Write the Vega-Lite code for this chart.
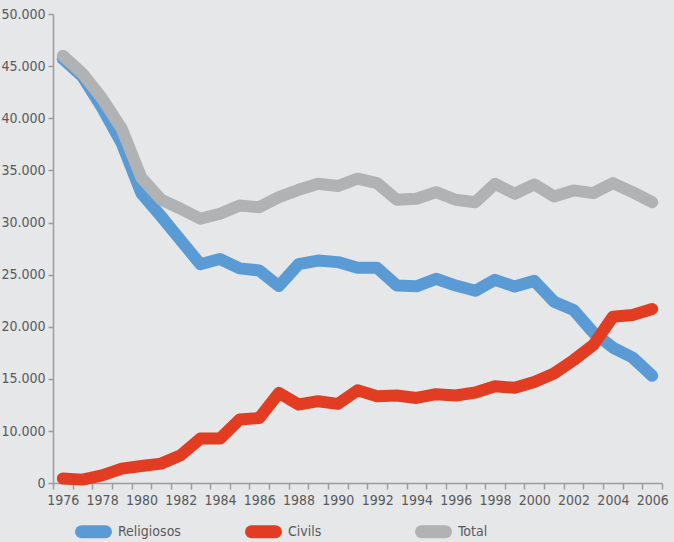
{
  "$schema": "https://vega.github.io/schema/vega-lite/v6.json",
  "width": 609,
  "height": 469,
  "autosize": {"type": "none"},
  "padding": {"left": 53, "top": 14, "right": 12, "bottom": 59},
  "background": "#E6E7E9",
  "config": {
    "view": {"stroke": null},
    "font": "DejaVu Sans Condensed, sans-serif",
    "axis": {
      "domainColor": "#9B9C9E",
      "tickColor": "#9B9C9E",
      "labelColor": "#58595B",
      "labelFontSize": 14,
      "labelFont": "DejaVu Sans Condensed, sans-serif",
      "grid": false,
      "title": null,
      "domainWidth": 1.5,
      "tickWidth": 1.5
    }
  },
  "data": {
    "values": [
      {"Any": 1976, "Tipus": "Religiosos", "Matrimonis": 45700},
      {"Any": 1977, "Tipus": "Religiosos", "Matrimonis": 44000},
      {"Any": 1978, "Tipus": "Religiosos", "Matrimonis": 41000},
      {"Any": 1979, "Tipus": "Religiosos", "Matrimonis": 37600},
      {"Any": 1980, "Tipus": "Religiosos", "Matrimonis": 32800},
      {"Any": 1981, "Tipus": "Religiosos", "Matrimonis": 30600},
      {"Any": 1982, "Tipus": "Religiosos", "Matrimonis": 28300},
      {"Any": 1983, "Tipus": "Religiosos", "Matrimonis": 26000},
      {"Any": 1984, "Tipus": "Religiosos", "Matrimonis": 26500},
      {"Any": 1985, "Tipus": "Religiosos", "Matrimonis": 25600},
      {"Any": 1986, "Tipus": "Religiosos", "Matrimonis": 25400},
      {"Any": 1987, "Tipus": "Religiosos", "Matrimonis": 23900},
      {"Any": 1988, "Tipus": "Religiosos", "Matrimonis": 26000},
      {"Any": 1989, "Tipus": "Religiosos", "Matrimonis": 26350},
      {"Any": 1990, "Tipus": "Religiosos", "Matrimonis": 26200},
      {"Any": 1991, "Tipus": "Religiosos", "Matrimonis": 25650},
      {"Any": 1992, "Tipus": "Religiosos", "Matrimonis": 25650},
      {"Any": 1993, "Tipus": "Religiosos", "Matrimonis": 23950},
      {"Any": 1994, "Tipus": "Religiosos", "Matrimonis": 23880},
      {"Any": 1995, "Tipus": "Religiosos", "Matrimonis": 24600},
      {"Any": 1996, "Tipus": "Religiosos", "Matrimonis": 23950},
      {"Any": 1997, "Tipus": "Religiosos", "Matrimonis": 23450},
      {"Any": 1998, "Tipus": "Religiosos", "Matrimonis": 24500},
      {"Any": 1999, "Tipus": "Religiosos", "Matrimonis": 23850},
      {"Any": 2000, "Tipus": "Religiosos", "Matrimonis": 24400},
      {"Any": 2001, "Tipus": "Religiosos", "Matrimonis": 22400},
      {"Any": 2002, "Tipus": "Religiosos", "Matrimonis": 21600},
      {"Any": 2003, "Tipus": "Religiosos", "Matrimonis": 19450},
      {"Any": 2004, "Tipus": "Religiosos", "Matrimonis": 18000},
      {"Any": 2005, "Tipus": "Religiosos", "Matrimonis": 17050},
      {"Any": 2006, "Tipus": "Religiosos", "Matrimonis": 15300},
      {"Any": 1976, "Tipus": "Civils", "Matrimonis": 850},
      {"Any": 1977, "Tipus": "Civils", "Matrimonis": 650},
      {"Any": 1978, "Tipus": "Civils", "Matrimonis": 1480},
      {"Any": 1979, "Tipus": "Civils", "Matrimonis": 2770},
      {"Any": 1980, "Tipus": "Civils", "Matrimonis": 3270},
      {"Any": 1981, "Tipus": "Civils", "Matrimonis": 3730},
      {"Any": 1982, "Tipus": "Civils", "Matrimonis": 5330},
      {"Any": 1983, "Tipus": "Civils", "Matrimonis": 8540},
      {"Any": 1984, "Tipus": "Civils", "Matrimonis": 8540},
      {"Any": 1985, "Tipus": "Civils", "Matrimonis": 11100},
      {"Any": 1986, "Tipus": "Civils", "Matrimonis": 11250},
      {"Any": 1987, "Tipus": "Civils", "Matrimonis": 13650},
      {"Any": 1988, "Tipus": "Civils", "Matrimonis": 12540},
      {"Any": 1989, "Tipus": "Civils", "Matrimonis": 12860},
      {"Any": 1990, "Tipus": "Civils", "Matrimonis": 12600},
      {"Any": 1991, "Tipus": "Civils", "Matrimonis": 13900},
      {"Any": 1992, "Tipus": "Civils", "Matrimonis": 13340},
      {"Any": 1993, "Tipus": "Civils", "Matrimonis": 13400},
      {"Any": 1994, "Tipus": "Civils", "Matrimonis": 13170},
      {"Any": 1995, "Tipus": "Civils", "Matrimonis": 13530},
      {"Any": 1996, "Tipus": "Civils", "Matrimonis": 13400},
      {"Any": 1997, "Tipus": "Civils", "Matrimonis": 13690},
      {"Any": 1998, "Tipus": "Civils", "Matrimonis": 14300},
      {"Any": 1999, "Tipus": "Civils", "Matrimonis": 14140},
      {"Any": 2000, "Tipus": "Civils", "Matrimonis": 14710},
      {"Any": 2001, "Tipus": "Civils", "Matrimonis": 15520},
      {"Any": 2002, "Tipus": "Civils", "Matrimonis": 16800},
      {"Any": 2003, "Tipus": "Civils", "Matrimonis": 18240},
      {"Any": 2004, "Tipus": "Civils", "Matrimonis": 20960},
      {"Any": 2005, "Tipus": "Civils", "Matrimonis": 21130},
      {"Any": 2006, "Tipus": "Civils", "Matrimonis": 21700},
      {"Any": 1976, "Tipus": "Total", "Matrimonis": 46000},
      {"Any": 1977, "Tipus": "Total", "Matrimonis": 44300},
      {"Any": 1978, "Tipus": "Total", "Matrimonis": 41900},
      {"Any": 1979, "Tipus": "Total", "Matrimonis": 39000},
      {"Any": 1980, "Tipus": "Total", "Matrimonis": 34300},
      {"Any": 1981, "Tipus": "Total", "Matrimonis": 32200},
      {"Any": 1982, "Tipus": "Total", "Matrimonis": 31320},
      {"Any": 1983, "Tipus": "Total", "Matrimonis": 30360},
      {"Any": 1984, "Tipus": "Total", "Matrimonis": 30840},
      {"Any": 1985, "Tipus": "Total", "Matrimonis": 31630},
      {"Any": 1986, "Tipus": "Total", "Matrimonis": 31470},
      {"Any": 1987, "Tipus": "Total", "Matrimonis": 32440},
      {"Any": 1988, "Tipus": "Total", "Matrimonis": 33140},
      {"Any": 1989, "Tipus": "Total", "Matrimonis": 33720},
      {"Any": 1990, "Tipus": "Total", "Matrimonis": 33500},
      {"Any": 1991, "Tipus": "Total", "Matrimonis": 34200},
      {"Any": 1992, "Tipus": "Total", "Matrimonis": 33780},
      {"Any": 1993, "Tipus": "Total", "Matrimonis": 32180},
      {"Any": 1994, "Tipus": "Total", "Matrimonis": 32280},
      {"Any": 1995, "Tipus": "Total", "Matrimonis": 32910},
      {"Any": 1996, "Tipus": "Total", "Matrimonis": 32180},
      {"Any": 1997, "Tipus": "Total", "Matrimonis": 31950},
      {"Any": 1998, "Tipus": "Total", "Matrimonis": 33700},
      {"Any": 1999, "Tipus": "Total", "Matrimonis": 32760},
      {"Any": 2000, "Tipus": "Total", "Matrimonis": 33650},
      {"Any": 2001, "Tipus": "Total", "Matrimonis": 32500},
      {"Any": 2002, "Tipus": "Total", "Matrimonis": 33080},
      {"Any": 2003, "Tipus": "Total", "Matrimonis": 32820},
      {"Any": 2004, "Tipus": "Total", "Matrimonis": 33780},
      {"Any": 2005, "Tipus": "Total", "Matrimonis": 32910},
      {"Any": 2006, "Tipus": "Total", "Matrimonis": 31950}
    ]
  },
  "mark": {"type": "line", "strokeWidth": 12, "strokeCap": "round", "strokeJoin": "round"},
  "encoding": {
    "x": {
      "field": "Any",
      "type": "ordinal",
      "bandPosition": 0.5,
      "scale": {"type": "band", "paddingInner": 0, "paddingOuter": 0},
      "axis": {
        "tickBand": "extent",
        "tickSize": 6,
        "labelPadding": 4,
        "labelAngle": 0,
        "labelOverlap": false,
        "labelExpr": "toNumber(datum.value) % 2 === 0 ? datum.label : ''"
      }
    },
    "y": {
      "field": "Matrimonis",
      "type": "quantitative",
      "scale": {"domain": [0, 10000, 50000], "range": [469, 417, 0], "nice": false, "zero": false},
      "axis": {
        "values": [0, 10000, 15000, 20000, 25000, 30000, 35000, 40000, 45000, 50000],
        "tickSize": 5,
        "labelPadding": 3,
        "labelExpr": "replace(format(datum.value, ','), ',', '.')"
      }
    },
    "color": {
      "field": "Tipus",
      "type": "nominal",
      "scale": {"domain": ["Religiosos", "Civils", "Total"], "range": ["#5B9BD5", "#E23D22", "#B0B2B4"]},
      "legend": {
        "title": null,
        "orient": "none",
        "legendX": 22,
        "legendY": 499,
        "direction": "horizontal",
        "columns": 3,
        "gridAlign": "all",
        "columnPadding": 44,
        "symbolType": "stroke",
        "symbolStrokeWidth": 13,
        "symbolSize": 576,
        "labelFont": "DejaVu Sans Condensed, sans-serif",
        "labelFontSize": 14,
        "labelColor": "#58595B",
        "labelOffset": 6,
        "encoding": {"symbols": {"strokeCap": {"value": "round"}}}
      }
    }
  }
}
